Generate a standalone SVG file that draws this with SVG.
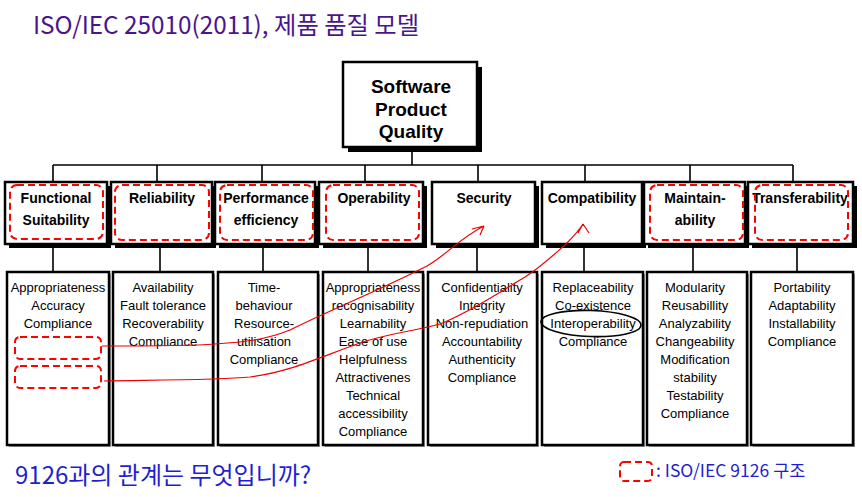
<svg xmlns="http://www.w3.org/2000/svg" width="862" height="497" viewBox="0 0 862 497">
<style>
.hb{fill:#fff;stroke:#000;stroke-width:2.5}
.sh{fill:#000}
.db{fill:#fff;stroke:#000;stroke-width:2.5}
.dsh{fill:#999}
.ht{font-family:"Liberation Sans",Arial,sans-serif;font-weight:bold;font-size:14px;text-anchor:middle;fill:#000}
.dt{font-family:"Liberation Sans",Arial,sans-serif;font-size:13px;text-anchor:middle;fill:#000}
.rd{fill:none;stroke:#f00;stroke-width:2;stroke-dasharray:7 4}
.conn{stroke:#000;stroke-width:1.6;fill:none}
.red{fill:none;stroke:#e00;stroke-width:1.2}
</style>
<rect width="862" height="497" fill="#fff"/>
<text x="33" y="34" font-family="'Noto Sans CJK KR',sans-serif" font-size="24.3" fill="#4a148c">ISO/IEC 25010(2011), 제품 품질 모델</text>

<g id="connectors">
<path class="conn" d="M412,148V165M53,165H793M53,165V182M157,165V182M262,165V182M365,165V182M478,165V182M585,165V182M690,165V182M793,165V182"/>
<path class="conn" d="M53,246V272M160,246V272M263,246V272M368,246V272M477,246V272M584,246V272M693,246V272M797,246V272"/>
</g>

<g id="root">
<rect class="sh" x="348" y="67" width="134" height="85"/>
<rect class="hb" x="343" y="62" width="134" height="85"/>
<text class="ht" style="font-size:19px" x="411" y="93">Software</text>
<text class="ht" style="font-size:19px" x="411" y="115.5">Product</text>
<text class="ht" style="font-size:19px" x="411" y="138">Quality</text>
</g>

<g id="h1"><rect class="sh" x="9" y="186" width="102" height="62"/><rect class="hb" x="5" y="182" width="102" height="62"/><text class="ht" x="56" y="203">Functional</text><text class="ht" x="56" y="225">Suitability</text></g>
<g id="h2"><rect class="sh" x="115" y="186" width="101" height="62"/><rect class="hb" x="111" y="182" width="101" height="62"/><text class="ht" x="162" y="203">Reliability</text></g>
<g id="h3"><rect class="sh" x="219" y="186" width="100" height="62"/><rect class="hb" x="215" y="182" width="100" height="62"/><text class="ht" x="266" y="203">Performance</text><text class="ht" x="266" y="225">efficiency</text></g>
<g id="h4"><rect class="sh" x="323" y="186" width="104" height="62"/><rect class="hb" x="319" y="182" width="104" height="62"/><text class="ht" x="374" y="203">Operability</text></g>
<g id="h5"><rect class="sh" x="436" y="186" width="103" height="62"/><rect class="hb" x="432" y="182" width="103" height="62"/><text class="ht" x="484" y="203">Security</text></g>
<g id="h6"><rect class="sh" x="546" y="186" width="100" height="62"/><rect class="hb" x="542" y="182" width="100" height="62"/><text class="ht" x="592" y="203">Compatibility</text></g>
<g id="h7"><rect class="sh" x="648" y="186" width="101" height="62"/><rect class="hb" x="644" y="182" width="101" height="62"/><text class="ht" x="695" y="203">Maintain-</text><text class="ht" x="695" y="225">ability</text></g>
<g id="h8"><rect class="sh" x="752" y="186" width="105" height="62"/><rect class="hb" x="748" y="182" width="105" height="62"/><text class="ht" x="800" y="203">Transferability</text></g>

<g id="d1"><rect class="dsh" x="9" y="274" width="102" height="173"/><rect class="db" x="7" y="272" width="102" height="173"/>
<text class="dt" x="58"><tspan x="58" y="292">Appropriateness</tspan><tspan x="58" y="310">Accuracy</tspan><tspan x="58" y="328">Compliance</tspan></text></g>
<g id="d2"><rect class="dsh" x="115" y="274" width="100" height="173"/><rect class="db" x="113" y="272" width="100" height="173"/>
<text class="dt"><tspan x="163" y="292">Availability</tspan><tspan x="163" y="310">Fault tolerance</tspan><tspan x="163" y="328">Recoverability</tspan><tspan x="163" y="346">Compliance</tspan></text></g>
<g id="d3"><rect class="dsh" x="220" y="274" width="100" height="173"/><rect class="db" x="218" y="272" width="100" height="173"/>
<text class="dt"><tspan x="264" y="292">Time-</tspan><tspan x="264" y="310">behaviour</tspan><tspan x="264" y="328">Resource-</tspan><tspan x="264" y="346">utilisation</tspan><tspan x="264" y="364">Compliance</tspan></text></g>
<g id="d4"><rect class="dsh" x="325" y="274" width="100" height="173"/><rect class="db" x="323" y="272" width="100" height="173"/>
<text class="dt"><tspan x="373" y="292">Appropriateness</tspan><tspan x="373" y="310">recognisability</tspan><tspan x="373" y="328">Learnability</tspan><tspan x="373" y="346">Ease of use</tspan><tspan x="373" y="364">Helpfulness</tspan><tspan x="373" y="382">Attractivenes</tspan><tspan x="373" y="400">Technical</tspan><tspan x="373" y="418">accessibility</tspan><tspan x="373" y="436">Compliance</tspan></text></g>
<g id="d5"><rect class="dsh" x="430" y="274" width="109" height="173"/><rect class="db" x="428" y="272" width="109" height="173"/>
<text class="dt"><tspan x="482" y="292">Confidentiality</tspan><tspan x="482" y="310">Integrity</tspan><tspan x="482" y="328">Non-repudiation</tspan><tspan x="482" y="346">Accountability</tspan><tspan x="482" y="364">Authenticity</tspan><tspan x="482" y="382">Compliance</tspan></text></g>
<g id="d6"><rect class="dsh" x="544" y="274" width="101" height="173"/><rect class="db" x="542" y="272" width="101" height="173"/>
<text class="dt"><tspan x="593" y="292">Replaceability</tspan><tspan x="593" y="310">Co-existence</tspan><tspan x="593" y="328">Interoperability</tspan><tspan x="593" y="346">Compliance</tspan></text></g>
<g id="d7"><rect class="dsh" x="649" y="274" width="100" height="173"/><rect class="db" x="647" y="272" width="100" height="173"/>
<text class="dt"><tspan x="695" y="292">Modularity</tspan><tspan x="695" y="310">Reusabillity</tspan><tspan x="695" y="328">Analyzability</tspan><tspan x="695" y="346">Changeability</tspan><tspan x="695" y="364">Modification</tspan><tspan x="695" y="382">stability</tspan><tspan x="695" y="400">Testability</tspan><tspan x="695" y="418">Compliance</tspan></text></g>
<g id="d8"><rect class="dsh" x="753" y="274" width="102" height="173"/><rect class="db" x="751" y="272" width="102" height="173"/>
<text class="dt"><tspan x="802" y="292">Portability</tspan><tspan x="802" y="310">Adaptability</tspan><tspan x="802" y="328">Installability</tspan><tspan x="802" y="346">Compliance</tspan></text></g>

<g id="iso9126-marks">
<rect class="rd" x="10" y="185" width="93" height="54" rx="7"/>
<rect class="rd" x="115" y="185" width="94" height="55" rx="7"/>
<rect class="rd" x="220" y="185" width="93" height="55" rx="7"/>
<rect class="rd" x="326" y="185" width="93" height="55" rx="7"/>
<rect class="rd" x="650" y="185" width="93" height="55" rx="7"/>
<rect class="rd" x="755" y="185" width="93" height="55" rx="7"/>
<rect class="rd" x="15" y="337" width="86" height="22" rx="5"/>
<rect class="rd" x="15" y="366" width="86" height="22" rx="5"/>
</g>

<g id="annotations">
<path class="red" d="M102,346 C150,346 190,346 215,344 C245,342 265,340 290,330 C330,310 380,290 427,266 C445,256 460,238 484,226 M484,226 L472,229 M484,226 L480,235"/>
<path class="red" d="M104,381 C160,380 220,380 250,377 C290,372 320,357 360,343 C390,333 410,332 440,324 C470,312 500,292 520,280 C535,272 550,258 565,245 C572,238 578,232 583,224 M583,224 L578,233 M583,224 L589,233"/>
<ellipse cx="591" cy="323.5" rx="50" ry="13" fill="none" stroke="#000" stroke-width="1.6" transform="rotate(2 591 323.5)"/>
</g>

<text x="15" y="484" font-family="'Noto Sans CJK KR',sans-serif" font-size="24" fill="#1f1fd1">9126과의 관계는 무엇입니까?</text>
<g id="legend">
<rect class="rd" x="620" y="462" width="32" height="19" rx="4"/>
<text x="656" y="477" font-family="'Noto Sans CJK KR',sans-serif" font-size="17.5" fill="#1f1fd1">: ISO/IEC 9126 구조</text>
</g>
</svg>
